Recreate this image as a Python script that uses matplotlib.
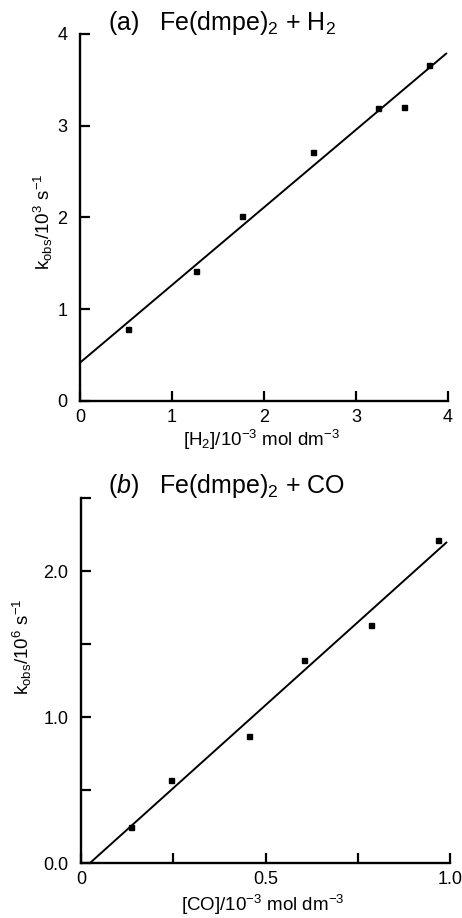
import matplotlib
matplotlib.use("Agg")
import matplotlib.pyplot as plt
import numpy as np
from matplotlib.ticker import FixedLocator

plt.rcParams["font.family"] = ["Liberation Sans", "DejaVu Sans"]
plt.rcParams["mathtext.fontset"] = "custom"
plt.rcParams["mathtext.rm"] = "Liberation Sans"
plt.rcParams["mathtext.it"] = "Liberation Sans:italic"
plt.rcParams["mathtext.bf"] = "Liberation Sans:bold"

# (a) Fe(dmpe)2 + H2 : [H2] / 1e-3 mol dm-3 vs k_obs / 1e3 s-1
h2_conc = [0.52, 1.26, 1.76, 2.53, 3.24, 3.52, 3.79]
h2_kobs = [0.79, 1.42, 2.02, 2.71, 3.19, 3.20, 3.66]

# (b) Fe(dmpe)2 + CO : [CO] / 1e-3 mol dm-3 vs k_obs / 1e6 s-1
co_conc = [0.136, 0.245, 0.455, 0.603, 0.785, 0.967]
co_kobs = [0.25, 0.57, 0.87, 1.39, 1.63, 2.21]

a_xticks = [0, 1, 2, 3, 4]
a_yticks = [0, 1, 2, 3, 4]
b_xticks = [0, 0.5, 1.0]
b_xlabels = ["0", "0.5", "1.0"]
b_yticks = [0, 1.0, 2.0]
b_ylabels = ["0.0", "1.0", "2.0"]


def style_axes(ax):
    for side in ("top", "right"):
        ax.spines[side].set_visible(False)
    for side in ("left", "bottom"):
        ax.spines[side].set_linewidth(1.7)
    ax.tick_params(which="both", direction="in", length=7, width=1.6,
                   labelsize=13)
    ax.tick_params(axis="x", which="both", pad=6)
    ax.tick_params(axis="y", which="both", pad=9)


fig = plt.figure(figsize=(4.62, 9.18), dpi=100)
ax_a = fig.add_axes([80 / 462, 1 - 401 / 918, 368 / 462, 367 / 918])
ax_b = fig.add_axes([81 / 462, 1 - 863 / 918, 369 / 462, 365 / 918])

# panel (a)
slope_a, icpt_a = np.polyfit(h2_conc, h2_kobs, 1)
xa = np.array([0.0, 3.98])
ax_a.plot(xa, icpt_a + slope_a * xa, color="black", lw=1.4)
ax_a.plot(h2_conc, h2_kobs, "s", color="black", ms=3.6)
ax_a.set_xlim(0, 4)
ax_a.set_ylim(0, 4)
ax_a.set_xticks(a_xticks)
ax_a.set_yticks(a_yticks)
style_axes(ax_a)
ax_a.set_xlabel("[H$_2$]/10$^{-3}$ mol dm$^{-3}$", fontsize=13.5, va="center")
ax_a.xaxis.set_label_coords(0.492, -0.106)
ax_a.set_ylabel("k$_\\mathrm{obs}$/10$^3$ s$^{-1}$", fontsize=13.5, va="center")
ax_a.yaxis.set_label_coords(-0.10, 0.488)
ax_a.text(0.076, 1.011, "(a)   Fe(dmpe)$_2$ + H$_2$", transform=ax_a.transAxes,
          fontsize=18, va="baseline", ha="left")

# panel (b)
slope_b, icpt_b = np.polyfit(co_conc, co_kobs, 1)
xb = np.array([-icpt_b / slope_b, 0.99])
ax_b.plot(xb, icpt_b + slope_b * xb, color="black", lw=1.4)
ax_b.plot(co_conc, co_kobs, "s", color="black", ms=3.6)
ax_b.set_xlim(0, 1.0)
ax_b.set_ylim(0, 2.5)
ax_b.set_xticks(b_xticks, b_xlabels)
ax_b.set_yticks(b_yticks, b_ylabels)
ax_b.xaxis.set_minor_locator(FixedLocator([0.25, 0.75]))
ax_b.yaxis.set_minor_locator(FixedLocator([0.5, 1.5, 2.5]))
style_axes(ax_b)
ax_b.set_xlabel("[CO]/10$^{-3}$ mol dm$^{-3}$", fontsize=13.5, va="center")
ax_b.xaxis.set_label_coords(0.493, -0.115)
ax_b.set_ylabel("k$_\\mathrm{obs}$/10$^6$ s$^{-1}$", fontsize=13.5, va="center")
ax_b.yaxis.set_label_coords(-0.16, 0.592)
ax_b.text(0.073, 1.014, "($\\mathit{b}$)   Fe(dmpe)$_2$ + CO", transform=ax_b.transAxes,
          fontsize=18, va="baseline", ha="left")

for ax in (ax_a, ax_b):
    for line in ax.lines:
        line.set_clip_on(False)

fig.savefig("out.png", dpi=100)
